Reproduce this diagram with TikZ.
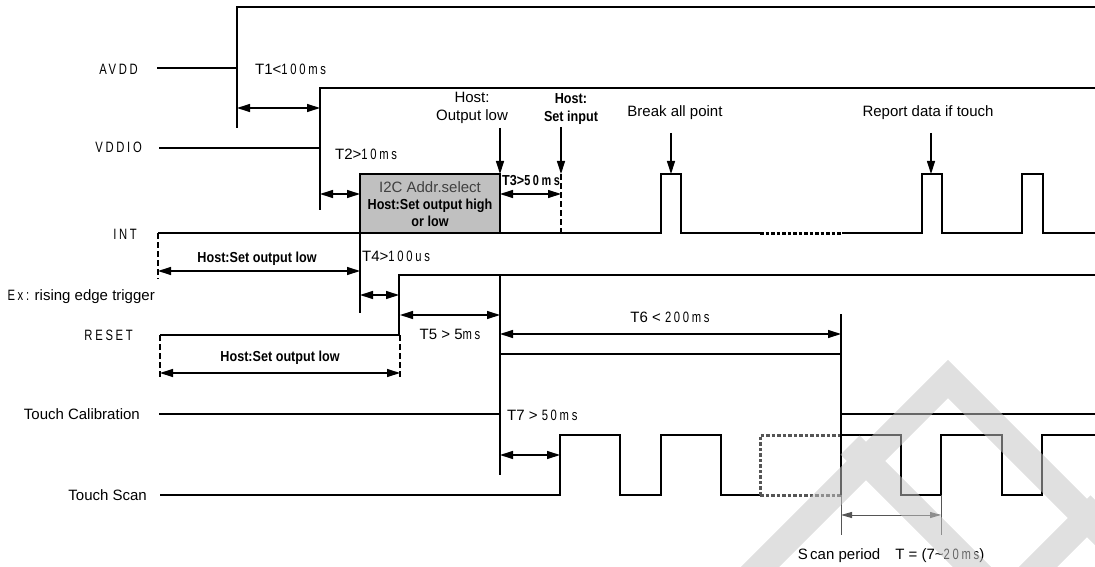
\documentclass[tikz,border=0pt]{standalone}
\usepackage{fontspec}
\setmainfont{Liberation Sans}
\newfontfamily\spc[FakeStretch=0.75,LetterSpace=18]{Liberation Sans}
\newfontfamily\nar[FakeStretch=0.87]{Liberation Sans}
\usetikzlibrary{arrows.meta}
\definecolor{boxgray}{RGB}{192,192,192}
\definecolor{wmgray}{RGB}{196,196,196}
\definecolor{dotgray}{RGB}{85,85,85}
\tikzset{
  sig/.style={line width=2pt, line join=miter},
  mk/.style={line width=1.2pt},
  dsh/.style={line width=1.7pt, dash pattern=on 6pt off 3pt},
  dotl/.style={line width=3pt, dash pattern=on 3.5pt off 2pt},
  tip/.tip={Triangle[length=13pt,width=8pt]},
  dim/.style={line width=1.2pt, tip-tip},
  dnarrow/.style={line width=1.2pt, -tip},
  lbl/.style={font=\fontsize{15}{18}\selectfont, inner sep=0pt},
  blbl/.style={font={\nar\bfseries\fontsize{14.5}{17.5}\selectfont}, inner sep=0pt, align=center},
  clbl/.style={font=\fontsize{15}{18}\selectfont, inner sep=0pt, align=center},
}
\newcommand{\spx}[1]{{\spc #1}}
\begin{document}
\begin{tikzpicture}[x=1pt,y=-1pt]
\useasboundingbox (0,0) rectangle (1095,567);
% signal names
\node[lbl, anchor=east] (nAVDD) at (138,69) {\spx{AVDD}};
\node[lbl, anchor=east] (nVDDIO) at (142,147) {\spx{VDDIO}};
\node[lbl, anchor=east] (nINT) at (137,234) {\spx{INT}};
\node[lbl, anchor=east] (nEx) at (155,297) {\spx{Ex:} rising edge trigger};
\node[lbl, anchor=east] (nRESET) at (133,335) {\spx{RESET}};
\node[lbl, anchor=east] (nTC) at (140,414) {Touch Calibration};
\node[lbl, anchor=east] (nTS) at (147,495) {Touch Scan};

% gray box
\draw[sig, fill=boxgray] (360,174) rectangle (500,233);
\node[clbl, text=black!75] (box1) at (430,187) {I2C Addr.select};
\node[blbl] (box2) at (430,213) {Host:Set output high\\or low};

% signals
\draw[sig] (157,68) -- (237,68) -- (237,7) -- (1095,7);
\draw[sig] (159,148) -- (320,148) -- (320,88) -- (1095,88);
\draw[sig] (158,233) -- (661,233) -- (661,174) -- (681,174) -- (681,233) -- (760,233);
\draw[dotl] (760,233) -- (842,233);
\draw[sig] (842,233) -- (922,233) -- (922,174) -- (942,174) -- (942,233) -- (1022,233) -- (1022,174) -- (1043,174) -- (1043,233) -- (1095,233);
\draw[sig] (160,335) -- (399,335) -- (399,275) -- (1095,275);
\draw[sig] (159,414) -- (500,414) -- (500,354) -- (841,354) -- (841,414) -- (1095,414);
\draw[sig] (160,495) -- (560,495) -- (560,435) -- (620,435) -- (620,495) -- (661,495) -- (661,435) -- (721,435) -- (721,495) -- (760,495);
\draw[dotl, dotgray] (760,495) -- (760,435) -- (841,435);
\draw[dotl, dotgray] (760,495) -- (841,495);
\draw[sig] (841,495) -- (841,435) -- (901,435) -- (901,495) -- (941,495) -- (941,435) -- (1002,435) -- (1002,495) -- (1042,495) -- (1042,435) -- (1095,435);

% marker lines
\draw[mk] (237,68) -- (237,128);
\draw[mk] (320,148) -- (320,210);
\draw[mk] (360,233) -- (360,313);
\draw[mk] (500,275) -- (500,354);
\draw[mk] (500,414) -- (500,475);
\draw[mk] (841,314) -- (841,354);
\draw[mk] (841,414) -- (841,435);
\draw[mk, dotgray, line width=0.9pt] (841,495) -- (841,535);
\draw[mk, dotgray, line width=0.9pt] (941,495) -- (941,535);
\draw[dsh] (158,233) -- (158,279);
\draw[dsh] (160,335) -- (160,379);
\draw[dsh] (400,335) -- (400,379);
\draw[dsh] (561,174) -- (561,233);

% dimension arrows
\coordinate (a1) at (237,108); \coordinate (b1) at (320,108);
\draw[dim] (a1) -- (b1);
\coordinate (a2) at (320,194); \coordinate (b2) at (360,194);
\draw[dim] (a2) -- (b2);
\coordinate (a3) at (500,194); \coordinate (b3) at (561,194);
\draw[dim] (a3) -- (b3);
\coordinate (a4) at (158,271); \coordinate (b4) at (360,271);
\draw[dim] (a4) -- (b4);
\coordinate (a5) at (360,295); \coordinate (b5) at (399,295);
\draw[dim] (a5) -- (b5);
\coordinate (a6) at (160,373); \coordinate (b6) at (400,373);
\draw[dim] (a6) -- (b6);
\coordinate (a7) at (400,315); \coordinate (b7) at (500,315);
\draw[dim] (a7) -- (b7);
\coordinate (a8) at (500,334); \coordinate (b8) at (841,334);
\draw[dim] (a8) -- (b8);
\coordinate (a9) at (500,455); \coordinate (b9) at (560,455);
\draw[dim] (a9) -- (b9);
\coordinate (a10) at (841,515); \coordinate (b10) at (941,515);
\draw[line width=1pt, dotgray, {Triangle[length=11pt,width=6pt]}-{Triangle[length=11pt,width=6pt]}] (a10) -- (b10);

% labels
\node[lbl, anchor=west] (t1) at (255,69) {T1<\spx{100ms}};
\node[lbl, anchor=west] (t2) at (335,154) {T2>\spx{10ms}};
\node[blbl, anchor=west] (t3) at (502,181) {T3>{\spc 50ms}};
\node[lbl, anchor=west] (t4) at (362,256) {T4>\spx{100us}};
\node[lbl] (t5) at (450,334) {T5 > 5\spx{ms}};
\node[lbl] (t6) at (670,317) {T6 < \spx{200ms}};
\node[lbl, anchor=west] (t7) at (507,415) {T7 > \spx{50ms}};
\node[blbl] (hs1) at (257,259) {Host:Set output low};
\node[blbl] (hs2) at (280,358) {Host:Set output low};
\node[clbl] (hol) at (472,108) {Host:\\Output low};
\node[blbl] (hsi) at (571,109) {Host:\\Set input};
\node[lbl] (bap) at (675,113) {Break all point};
\node[lbl] (rdt) at (928,113) {Report data if touch};
\node[lbl] (scp) at (891,556) {S\,can period\quad T = (7\textasciitilde\spx{20ms})};

% down arrows
\coordinate (d1) at (500,128); \coordinate (e1) at (500,174);
\draw[dnarrow] (d1) -- (e1);
\coordinate (d2) at (561,127); \coordinate (e2) at (561,174);
\draw[dnarrow] (d2) -- (e2);
\coordinate (d3) at (671,133); \coordinate (e3) at (671,174);
\draw[dnarrow] (d3) -- (e3);
\coordinate (d4) at (931,133); \coordinate (e4) at (931,174);
\draw[dnarrow] (d4) -- (e4);

% watermark
\begin{scope}
\clip (0,0) rectangle (1095,567);
\draw[wmgray, line width=27pt, opacity=0.52, line join=miter]
  (698,629) -- (948,379) -- (1198,629)
  (850,445) -- (1010,605)
  (1005,600) -- (1100,505);
\end{scope}
\end{tikzpicture}
\end{document}
